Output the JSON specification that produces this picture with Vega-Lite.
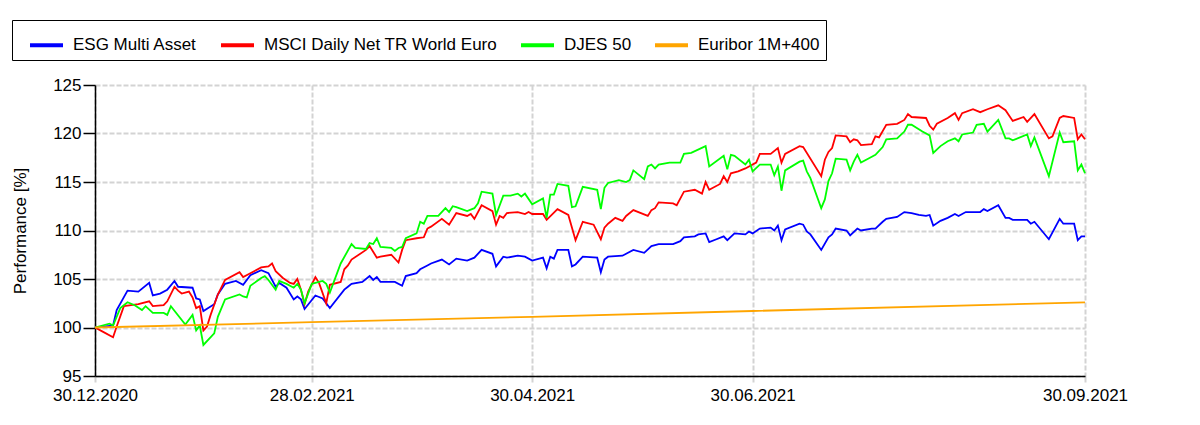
{
  "$schema": "https://vega.github.io/schema/vega-lite/v6.json",
  "width": 990,
  "height": 291,
  "autosize": {"type": "none"},
  "padding": {"left": 95, "top": 85, "right": 115, "bottom": 49},
  "background": "white",
  "config": {
    "view": {"stroke": null},
    "font": "Liberation Sans",
    "axis": {"labelFont": "Liberation Sans", "titleFont": "Liberation Sans"},
    "legend": {"labelFont": "Liberation Sans"}
  },
  "datasets": {
    "esg": [
      {"date":"2020-12-30","value":100.0},{"date":"2021-01-04","value":100.2},{"date":"2021-01-05","value":101.8},{"date":"2021-01-08","value":103.8},{"date":"2021-01-11","value":103.7},{"date":"2021-01-14","value":104.6},{"date":"2021-01-15","value":103.3},{"date":"2021-01-17","value":103.5},{"date":"2021-01-19","value":103.9},{"date":"2021-01-21","value":104.8},{"date":"2021-01-22","value":104.2},{"date":"2021-01-26","value":104.1},{"date":"2021-01-27","value":103.0},{"date":"2021-01-28","value":102.9},{"date":"2021-01-29","value":101.7},
      {"date":"2021-02-01","value":102.4},{"date":"2021-02-02","value":103.4},{"date":"2021-02-04","value":104.5},{"date":"2021-02-07","value":104.8},{"date":"2021-02-09","value":104.4},{"date":"2021-02-11","value":105.4},{"date":"2021-02-14","value":105.9},{"date":"2021-02-16","value":105.6},{"date":"2021-02-18","value":104.2},{"date":"2021-02-19","value":104.6},{"date":"2021-02-21","value":104.1},{"date":"2021-02-23","value":102.9},{"date":"2021-02-24","value":103.2},{"date":"2021-02-25","value":102.9},{"date":"2021-02-26","value":101.9},
      {"date":"2021-03-01","value":103.3},{"date":"2021-03-03","value":103.0},{"date":"2021-03-05","value":102.0},{"date":"2021-03-09","value":103.9},{"date":"2021-03-10","value":104.2},{"date":"2021-03-11","value":104.5},{"date":"2021-03-14","value":104.7},{"date":"2021-03-16","value":105.3},{"date":"2021-03-17","value":104.9},{"date":"2021-03-18","value":105.2},{"date":"2021-03-19","value":104.7},{"date":"2021-03-23","value":104.7},{"date":"2021-03-25","value":104.3},{"date":"2021-03-26","value":105.3},{"date":"2021-03-29","value":105.6},{"date":"2021-03-30","value":106.0},
      {"date":"2021-04-01","value":106.4},{"date":"2021-04-02","value":106.6},{"date":"2021-04-05","value":107.0},{"date":"2021-04-07","value":106.5},{"date":"2021-04-09","value":107.1},{"date":"2021-04-12","value":106.9},{"date":"2021-04-14","value":107.2},{"date":"2021-04-16","value":108.0},{"date":"2021-04-19","value":107.6},{"date":"2021-04-20","value":106.3},{"date":"2021-04-22","value":107.3},{"date":"2021-04-23","value":107.2},{"date":"2021-04-26","value":107.4},{"date":"2021-04-28","value":107.3},{"date":"2021-04-30","value":106.9},
      {"date":"2021-05-03","value":107.2},{"date":"2021-05-04","value":106.1},{"date":"2021-05-05","value":107.3},{"date":"2021-05-06","value":107.1},{"date":"2021-05-07","value":108.0},{"date":"2021-05-10","value":108.0},{"date":"2021-05-11","value":106.3},{"date":"2021-05-12","value":106.5},{"date":"2021-05-14","value":107.3},{"date":"2021-05-18","value":107.2},{"date":"2021-05-19","value":105.7},{"date":"2021-05-20","value":107.0},{"date":"2021-05-21","value":107.3},{"date":"2021-05-25","value":107.4},{"date":"2021-05-26","value":107.6},{"date":"2021-05-28","value":108.0},{"date":"2021-05-31","value":107.7},
      {"date":"2021-06-02","value":108.4},{"date":"2021-06-04","value":108.6},{"date":"2021-06-08","value":108.6},{"date":"2021-06-10","value":108.9},{"date":"2021-06-11","value":109.3},{"date":"2021-06-14","value":109.4},{"date":"2021-06-15","value":109.6},{"date":"2021-06-17","value":109.7},{"date":"2021-06-18","value":108.8},{"date":"2021-06-20","value":109.1},{"date":"2021-06-22","value":109.4},{"date":"2021-06-23","value":109.0},{"date":"2021-06-25","value":109.7},{"date":"2021-06-28","value":109.6},{"date":"2021-06-29","value":109.9},{"date":"2021-06-30","value":109.7},
      {"date":"2021-07-02","value":110.2},{"date":"2021-07-05","value":110.3},{"date":"2021-07-06","value":110.0},{"date":"2021-07-07","value":110.5},{"date":"2021-07-08","value":109.0},{"date":"2021-07-09","value":110.1},{"date":"2021-07-13","value":110.7},{"date":"2021-07-14","value":110.6},{"date":"2021-07-15","value":109.9},{"date":"2021-07-16","value":109.6},{"date":"2021-07-19","value":108.0},{"date":"2021-07-21","value":109.3},{"date":"2021-07-22","value":109.6},{"date":"2021-07-23","value":110.2},{"date":"2021-07-26","value":110.0},{"date":"2021-07-27","value":109.5},{"date":"2021-07-29","value":110.2},{"date":"2021-07-30","value":110.0},
      {"date":"2021-08-02","value":110.2},{"date":"2021-08-03","value":110.2},{"date":"2021-08-05","value":110.9},{"date":"2021-08-06","value":111.2},{"date":"2021-08-09","value":111.4},{"date":"2021-08-11","value":111.9},{"date":"2021-08-13","value":111.8},{"date":"2021-08-15","value":111.6},{"date":"2021-08-17","value":111.5},{"date":"2021-08-18","value":111.6},{"date":"2021-08-19","value":110.5},{"date":"2021-08-21","value":111.0},{"date":"2021-08-23","value":111.3},{"date":"2021-08-25","value":111.7},{"date":"2021-08-26","value":111.5},{"date":"2021-08-28","value":111.9},
      {"date":"2021-09-01","value":111.9},{"date":"2021-09-02","value":112.2},{"date":"2021-09-03","value":112.0},{"date":"2021-09-06","value":112.6},{"date":"2021-09-08","value":111.3},{"date":"2021-09-09","value":111.3},{"date":"2021-09-10","value":111.1},{"date":"2021-09-14","value":111.1},{"date":"2021-09-15","value":110.7},{"date":"2021-09-16","value":110.9},{"date":"2021-09-20","value":109.1},{"date":"2021-09-23","value":111.2},{"date":"2021-09-24","value":110.7},{"date":"2021-09-27","value":110.7},{"date":"2021-09-28","value":109.0},{"date":"2021-09-29","value":109.4},{"date":"2021-09-30","value":109.4}
    ],
    "msci": [
      {"date":"2020-12-30","value":100.0},{"date":"2021-01-01","value":99.6},{"date":"2021-01-04","value":99.0},{"date":"2021-01-05","value":100.1},{"date":"2021-01-07","value":102.2},{"date":"2021-01-09","value":102.3},{"date":"2021-01-11","value":102.4},{"date":"2021-01-14","value":102.7},{"date":"2021-01-15","value":102.2},{"date":"2021-01-18","value":102.3},{"date":"2021-01-19","value":102.7},{"date":"2021-01-21","value":104.2},{"date":"2021-01-22","value":103.8},{"date":"2021-01-23","value":103.5},{"date":"2021-01-25","value":103.7},{"date":"2021-01-26","value":103.1},{"date":"2021-01-27","value":102.0},{"date":"2021-01-28","value":102.2},{"date":"2021-01-29","value":99.7},{"date":"2021-01-30","value":100.1},{"date":"2021-01-31","value":101.3},
      {"date":"2021-02-02","value":103.4},{"date":"2021-02-04","value":104.9},{"date":"2021-02-08","value":105.7},{"date":"2021-02-09","value":105.2},{"date":"2021-02-11","value":105.6},{"date":"2021-02-14","value":106.2},{"date":"2021-02-16","value":106.3},{"date":"2021-02-17","value":106.6},{"date":"2021-02-18","value":105.8},{"date":"2021-02-20","value":105.1},{"date":"2021-02-22","value":104.6},{"date":"2021-02-23","value":104.5},{"date":"2021-02-24","value":105.0},{"date":"2021-02-25","value":103.9},{"date":"2021-02-26","value":102.4},{"date":"2021-02-27","value":103.7},
      {"date":"2021-03-01","value":105.2},{"date":"2021-03-02","value":104.6},{"date":"2021-03-04","value":102.5},{"date":"2021-03-05","value":104.4},{"date":"2021-03-08","value":104.7},{"date":"2021-03-09","value":106.0},{"date":"2021-03-10","value":106.4},{"date":"2021-03-11","value":107.0},{"date":"2021-03-15","value":108.0},{"date":"2021-03-16","value":108.4},{"date":"2021-03-18","value":107.2},{"date":"2021-03-19","value":107.3},{"date":"2021-03-22","value":107.5},{"date":"2021-03-24","value":106.7},{"date":"2021-03-25","value":108.0},{"date":"2021-03-26","value":109.0},{"date":"2021-03-29","value":109.2},{"date":"2021-03-31","value":109.3},
      {"date":"2021-04-01","value":110.2},{"date":"2021-04-02","value":110.4},{"date":"2021-04-05","value":111.2},{"date":"2021-04-07","value":110.6},{"date":"2021-04-09","value":111.8},{"date":"2021-04-12","value":111.5},{"date":"2021-04-13","value":111.7},{"date":"2021-04-14","value":111.2},{"date":"2021-04-16","value":112.6},{"date":"2021-04-19","value":112.0},{"date":"2021-04-20","value":110.6},{"date":"2021-04-21","value":111.5},{"date":"2021-04-22","value":111.3},{"date":"2021-04-23","value":111.8},{"date":"2021-04-26","value":111.9},{"date":"2021-04-28","value":111.7},{"date":"2021-04-29","value":111.9},{"date":"2021-04-30","value":111.7},
      {"date":"2021-05-03","value":111.7},{"date":"2021-05-04","value":111.1},{"date":"2021-05-07","value":112.2},{"date":"2021-05-10","value":111.6},{"date":"2021-05-12","value":109.0},{"date":"2021-05-14","value":110.9},{"date":"2021-05-17","value":110.6},{"date":"2021-05-19","value":109.1},{"date":"2021-05-20","value":110.3},{"date":"2021-05-21","value":110.7},{"date":"2021-05-23","value":111.3},{"date":"2021-05-25","value":111.0},{"date":"2021-05-26","value":111.5},{"date":"2021-05-28","value":112.1},
      {"date":"2021-06-01","value":111.5},{"date":"2021-06-02","value":112.1},{"date":"2021-06-03","value":112.3},{"date":"2021-06-04","value":112.9},{"date":"2021-06-08","value":112.8},{"date":"2021-06-09","value":112.6},{"date":"2021-06-11","value":114.0},{"date":"2021-06-14","value":114.2},{"date":"2021-06-16","value":113.8},{"date":"2021-06-17","value":115.0},{"date":"2021-06-18","value":114.2},{"date":"2021-06-21","value":114.8},{"date":"2021-06-22","value":115.6},{"date":"2021-06-23","value":115.0},{"date":"2021-06-24","value":115.9},{"date":"2021-06-26","value":116.1},{"date":"2021-06-28","value":116.4},
      {"date":"2021-07-01","value":117.0},{"date":"2021-07-02","value":117.9},{"date":"2021-07-05","value":117.9},{"date":"2021-07-07","value":118.5},{"date":"2021-07-08","value":117.0},{"date":"2021-07-09","value":117.9},{"date":"2021-07-13","value":118.7},{"date":"2021-07-14","value":118.6},{"date":"2021-07-19","value":115.6},{"date":"2021-07-20","value":117.3},{"date":"2021-07-21","value":118.1},{"date":"2021-07-22","value":118.5},{"date":"2021-07-23","value":119.8},{"date":"2021-07-26","value":119.7},{"date":"2021-07-27","value":119.1},{"date":"2021-07-28","value":119.4},{"date":"2021-07-29","value":119.3},{"date":"2021-07-30","value":118.8},
      {"date":"2021-08-02","value":118.9},{"date":"2021-08-03","value":119.7},{"date":"2021-08-04","value":119.6},{"date":"2021-08-06","value":120.9},{"date":"2021-08-09","value":121.0},{"date":"2021-08-11","value":121.4},{"date":"2021-08-12","value":122.0},{"date":"2021-08-13","value":121.7},{"date":"2021-08-17","value":121.6},{"date":"2021-08-18","value":120.8},{"date":"2021-08-19","value":120.4},{"date":"2021-08-20","value":121.0},{"date":"2021-08-23","value":121.6},{"date":"2021-08-25","value":122.1},{"date":"2021-08-26","value":121.4},{"date":"2021-08-27","value":122.1},{"date":"2021-08-30","value":122.5},
      {"date":"2021-09-01","value":122.2},{"date":"2021-09-03","value":122.5},{"date":"2021-09-06","value":122.9},{"date":"2021-09-08","value":122.4},{"date":"2021-09-10","value":121.3},{"date":"2021-09-13","value":121.7},{"date":"2021-09-14","value":121.2},{"date":"2021-09-16","value":122.0},{"date":"2021-09-20","value":119.5},{"date":"2021-09-21","value":119.7},{"date":"2021-09-23","value":121.6},{"date":"2021-09-24","value":121.8},{"date":"2021-09-27","value":121.6},{"date":"2021-09-28","value":119.4},{"date":"2021-09-29","value":119.9},{"date":"2021-09-30","value":119.4}
    ],
    "djes": [
      {"date":"2020-12-30","value":100.0},{"date":"2021-01-03","value":100.4},{"date":"2021-01-04","value":100.2},{"date":"2021-01-06","value":102.0},{"date":"2021-01-08","value":102.6},{"date":"2021-01-10","value":102.3},{"date":"2021-01-12","value":101.8},{"date":"2021-01-13","value":102.2},{"date":"2021-01-15","value":101.5},{"date":"2021-01-18","value":101.5},{"date":"2021-01-19","value":101.3},{"date":"2021-01-20","value":102.2},{"date":"2021-01-24","value":100.3},{"date":"2021-01-26","value":101.3},{"date":"2021-01-27","value":99.7},{"date":"2021-01-28","value":100.2},{"date":"2021-01-29","value":98.2},
      {"date":"2021-02-01","value":99.4},{"date":"2021-02-02","value":101.1},{"date":"2021-02-04","value":102.9},{"date":"2021-02-08","value":103.4},{"date":"2021-02-09","value":103.2},{"date":"2021-02-10","value":103.1},{"date":"2021-02-11","value":104.3},{"date":"2021-02-14","value":105.1},{"date":"2021-02-15","value":105.3},{"date":"2021-02-16","value":104.9},{"date":"2021-02-18","value":103.9},{"date":"2021-02-19","value":104.8},{"date":"2021-02-21","value":104.5},{"date":"2021-02-23","value":104.1},{"date":"2021-02-24","value":104.5},{"date":"2021-02-25","value":103.9},{"date":"2021-02-26","value":102.5},{"date":"2021-02-28","value":104.5},
      {"date":"2021-03-03","value":104.8},{"date":"2021-03-04","value":104.5},{"date":"2021-03-05","value":103.6},{"date":"2021-03-06","value":104.6},{"date":"2021-03-08","value":106.6},{"date":"2021-03-11","value":108.6},{"date":"2021-03-12","value":108.2},{"date":"2021-03-15","value":108.1},{"date":"2021-03-16","value":108.7},{"date":"2021-03-17","value":108.6},{"date":"2021-03-18","value":109.2},{"date":"2021-03-19","value":108.3},{"date":"2021-03-22","value":108.2},{"date":"2021-03-23","value":107.9},{"date":"2021-03-24","value":108.2},{"date":"2021-03-25","value":108.3},{"date":"2021-03-26","value":109.2},{"date":"2021-03-29","value":109.7},{"date":"2021-03-30","value":110.9},{"date":"2021-03-31","value":110.7},
      {"date":"2021-04-01","value":111.5},{"date":"2021-04-04","value":111.5},{"date":"2021-04-06","value":112.3},{"date":"2021-04-07","value":111.9},{"date":"2021-04-08","value":112.5},{"date":"2021-04-09","value":112.4},{"date":"2021-04-12","value":112.0},{"date":"2021-04-14","value":112.3},{"date":"2021-04-15","value":112.8},{"date":"2021-04-16","value":114.0},{"date":"2021-04-19","value":113.8},{"date":"2021-04-20","value":111.6},{"date":"2021-04-22","value":113.6},{"date":"2021-04-24","value":113.6},{"date":"2021-04-26","value":113.8},{"date":"2021-04-27","value":113.5},{"date":"2021-04-28","value":113.8},{"date":"2021-04-30","value":112.7},
      {"date":"2021-05-03","value":113.3},{"date":"2021-05-04","value":111.3},{"date":"2021-05-05","value":113.7},{"date":"2021-05-06","value":113.7},{"date":"2021-05-07","value":114.8},{"date":"2021-05-10","value":114.6},{"date":"2021-05-11","value":112.4},{"date":"2021-05-12","value":112.5},{"date":"2021-05-14","value":114.5},{"date":"2021-05-18","value":114.2},{"date":"2021-05-19","value":112.2},{"date":"2021-05-20","value":114.4},{"date":"2021-05-21","value":114.9},{"date":"2021-05-24","value":115.2},{"date":"2021-05-26","value":115.0},{"date":"2021-05-27","value":115.2},{"date":"2021-05-28","value":116.2},{"date":"2021-05-31","value":115.3},
      {"date":"2021-06-01","value":116.6},{"date":"2021-06-02","value":116.8},{"date":"2021-06-03","value":116.4},{"date":"2021-06-04","value":116.8},{"date":"2021-06-07","value":117.0},{"date":"2021-06-10","value":117.0},{"date":"2021-06-11","value":117.9},{"date":"2021-06-13","value":118.0},{"date":"2021-06-17","value":118.7},{"date":"2021-06-18","value":116.6},{"date":"2021-06-22","value":117.7},{"date":"2021-06-23","value":116.3},{"date":"2021-06-24","value":117.8},{"date":"2021-06-25","value":117.7},{"date":"2021-06-28","value":116.8},{"date":"2021-06-29","value":117.3},{"date":"2021-06-30","value":116.1},
      {"date":"2021-07-02","value":116.8},{"date":"2021-07-05","value":116.8},{"date":"2021-07-06","value":115.7},{"date":"2021-07-07","value":116.6},{"date":"2021-07-08","value":114.1},{"date":"2021-07-09","value":116.2},{"date":"2021-07-13","value":117.1},{"date":"2021-07-14","value":117.2},{"date":"2021-07-15","value":116.1},{"date":"2021-07-16","value":115.4},{"date":"2021-07-19","value":112.3},{"date":"2021-07-20","value":113.2},{"date":"2021-07-21","value":115.1},{"date":"2021-07-22","value":115.9},{"date":"2021-07-23","value":117.4},{"date":"2021-07-26","value":117.3},{"date":"2021-07-27","value":116.2},{"date":"2021-07-28","value":117.1},{"date":"2021-07-29","value":117.8},{"date":"2021-07-30","value":117.0},
      {"date":"2021-08-02","value":117.6},{"date":"2021-08-03","value":117.8},{"date":"2021-08-05","value":118.6},{"date":"2021-08-06","value":119.4},{"date":"2021-08-09","value":119.5},{"date":"2021-08-11","value":120.2},{"date":"2021-08-12","value":120.9},{"date":"2021-08-13","value":120.9},{"date":"2021-08-16","value":120.2},{"date":"2021-08-18","value":119.8},{"date":"2021-08-19","value":118.0},{"date":"2021-08-21","value":118.7},{"date":"2021-08-23","value":119.2},{"date":"2021-08-25","value":119.5},{"date":"2021-08-26","value":119.2},{"date":"2021-08-27","value":119.9},{"date":"2021-08-30","value":120.1},{"date":"2021-08-31","value":120.9},
      {"date":"2021-09-02","value":121.0},{"date":"2021-09-03","value":120.2},{"date":"2021-09-06","value":121.4},{"date":"2021-09-08","value":119.5},{"date":"2021-09-09","value":119.5},{"date":"2021-09-10","value":119.3},{"date":"2021-09-14","value":119.9},{"date":"2021-09-15","value":118.7},{"date":"2021-09-16","value":119.6},{"date":"2021-09-20","value":115.6},{"date":"2021-09-23","value":120.1},{"date":"2021-09-24","value":119.1},{"date":"2021-09-27","value":119.2},{"date":"2021-09-28","value":116.2},{"date":"2021-09-29","value":116.8},{"date":"2021-09-30","value":115.9}
    ],
    "euribor": [
      {"date":"2020-12-30","value":100.0},{"date":"2021-02-28","value":100.55},{"date":"2021-04-30","value":101.1},{"date":"2021-06-30","value":101.7},{"date":"2021-09-30","value":102.6}
    ]
  },
  "encoding": {
    "x": {
      "field": "date",
      "type": "temporal",
      "scale": {
        "type": "utc",
        "domain": [
          {"year": 2020, "month": 12, "date": 30, "utc": true},
          {"year": 2021, "month": 9, "date": 30, "utc": true}
        ]
      },
      "axis": {
        "title": null,
        "labelExpr": "utcFormat(datum.value, '%d.%m.%Y')",
        "values": [
          {"year": 2020, "month": 12, "date": 30, "utc": true},
          {"year": 2021, "month": 2, "date": 28, "utc": true},
          {"year": 2021, "month": 4, "date": 30, "utc": true},
          {"year": 2021, "month": 6, "date": 30, "utc": true},
          {"year": 2021, "month": 9, "date": 30, "utc": true}
        ],
        "labelFontSize": 17,
        "labelColor": "black",
        "labelPadding": 5,
        "labelFlush": false,
        "labelOverlap": false,
        "domainColor": "black",
        "domainWidth": 1.5,
        "tickColor": "#d3d3d3",
        "tickSize": 6,
        "tickWidth": 2,
        "grid": true,
        "gridColor": "#d3d3d3",
        "gridDash": [5, 2],
        "gridWidth": 2
      }
    },
    "y": {
      "field": "value",
      "type": "quantitative",
      "scale": {"domain": [95, 125], "nice": false, "zero": false},
      "axis": {
        "title": "Performance [%]",
        "titleFontSize": 17,
        "titleFontWeight": "normal",
        "titleColor": "black",
        "titlePadding": 23,
        "values": [95, 100, 105, 110, 115, 120, 125],
        "labelFontSize": 17,
        "labelColor": "black",
        "labelPadding": 2,
        "domainColor": "black",
        "domainWidth": 1.5,
        "tickColor": "black",
        "tickSize": 12,
        "tickWidth": 1.5,
        "grid": true,
        "gridColor": "#d3d3d3",
        "gridDash": [5, 2],
        "gridWidth": 2
      }
    }
  },
  "layer": [
    {
      "data": {"values": [{}]},
      "mark": {"type": "rule", "color": "black", "strokeWidth": 1.5},
      "encoding": {"y": {"datum": 100}, "x": null}
    },
    {
      "data": {"name": "esg"},
      "mark": {"type": "line", "strokeWidth": 1.8},
      "encoding": {
        "color": {
          "datum": "ESG Multi Asset",
          "type": "nominal",
          "scale": {
            "domain": ["ESG Multi Asset", "MSCI Daily Net TR World Euro", "DJES 50", "Euribor 1M+400"],
            "range": ["#0000ff", "#ff0000", "#00ff00", "#ffa500"]
          },
          "legend": {
            "title": null,
            "orient": "none",
            "legendX": -83,
            "legendY": -65,
            "direction": "horizontal",
            "symbolType": "stroke",
            "symbolSize": 1089,
            "symbolStrokeWidth": 4,
            "symbolOffset": 9.5,
            "labelOffset": 8,
            "labelFontSize": 17,
            "labelColor": "black",
            "labelLimit": 400,
            "columnPadding": 12,
            "padding": 6.5,
            "strokeColor": "black",
            "fillColor": "white"
          }
        }
      }
    },
    {
      "data": {"name": "msci"},
      "mark": {"type": "line", "strokeWidth": 1.8},
      "encoding": {"color": {"datum": "MSCI Daily Net TR World Euro", "type": "nominal"}}
    },
    {
      "data": {"name": "djes"},
      "mark": {"type": "line", "strokeWidth": 1.8},
      "encoding": {"color": {"datum": "DJES 50", "type": "nominal"}}
    },
    {
      "data": {"name": "euribor"},
      "mark": {"type": "line", "strokeWidth": 1.8},
      "encoding": {"color": {"datum": "Euribor 1M+400", "type": "nominal"}}
    }
  ]
}
